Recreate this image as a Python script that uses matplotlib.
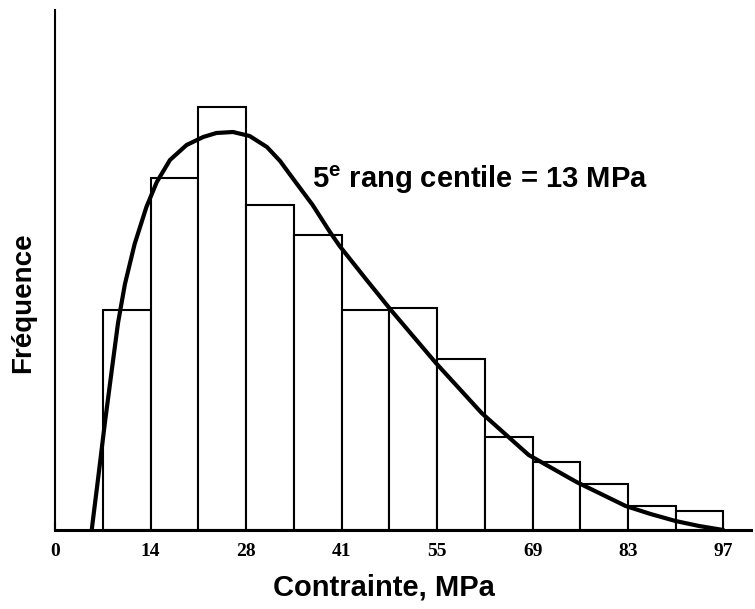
import numpy as np
import matplotlib
matplotlib.use('Agg')
import matplotlib.pyplot as plt

# histogram bins (MPa), bar heights (arbitrary frequency units)
bin_edges = [6.9, 13.8, 20.7, 27.6, 34.5, 41.4, 48.3, 55.2, 62.1, 69.0, 75.8, 82.7, 89.6, 96.5]
bar_heights = [22.0, 35.2, 42.3, 32.5, 29.5, 22.0, 22.2, 17.1, 9.3, 6.8, 4.6, 2.4, 1.9]

# fitted curve, points
curve_x = [5.3, 6.25, 7.2, 8.2, 9.1, 10.1, 11.5, 13.2, 14.7, 16.6, 19.0, 21.4, 23.3, 25.7,
           28.1, 30.6, 32.5, 34.3, 37.2, 39.7, 41.1, 45.0, 48.5, 55.0, 61.6, 68.4, 75.3,
           82.4, 86.0, 89.6, 93.0, 96.5]
curve_y = [0.0, 5.3, 10.7, 16.0, 20.7, 24.6, 28.6, 32.3, 34.8, 37.0, 38.5, 39.3, 39.7, 39.8,
           39.4, 38.3, 36.9, 35.2, 32.5, 29.8, 28.4, 25.0, 22.0, 16.7, 11.7, 7.5, 4.8,
           2.4, 1.6, 0.9, 0.4, 0.0]

# x tick positions (2 ksi steps) and their labels
tick_pos = [0, 13.8, 27.6, 41.4, 55.2, 69.0, 82.7, 96.5]
tick_labels = ['0', '14', '28', '41', '55', '69', '83', '97']

sans = ['Liberation Sans', 'DejaVu Sans']

fig = plt.figure(figsize=(7.55, 6.09), dpi=100)
ax = fig.add_axes([55/755, 79/609, 696/755, 520/609])

# bars
lefts = bin_edges[:-1]
widths = np.diff(bin_edges)
ax.bar(lefts, bar_heights, width=widths, align='edge', facecolor='white',
       edgecolor='black', linewidth=1.5, zorder=2)

# curve
ax.plot(curve_x, curve_y, color='black', linewidth=3, solid_capstyle='round',
        solid_joinstyle='round', zorder=3)

ax.set_xlim(0, 100.5)
ax.set_ylim(0, 52)

# axes style
for s in ['top', 'right']:
    ax.spines[s].set_visible(False)
ax.spines['left'].set_linewidth(1.5)
ax.spines['bottom'].set_linewidth(2.2)
ax.set_yticks([])
ax.set_xticks(tick_pos)
ax.set_xticklabels(tick_labels, family='Liberation Serif', fontweight='bold', fontsize=14)
ax.tick_params(axis='x', direction='in', length=6, width=1.5, pad=9)

# annotation
ax.text(37.1, 35.0, r'5$^{\mathregular{e}}$ rang centile = 13 MPa', family=sans,
        fontweight='bold', fontsize=21, ha='left', va='center')

# axis titles
fig.text(23/755, 1 - 303/609, 'Fréquence', family=sans, fontsize=20, fontweight='bold',
         rotation=90, ha='center', va='center')
fig.text(384/755, 1 - 588/609, 'Contrainte, MPa', family=sans, fontsize=21,
         fontweight='bold', ha='center', va='center')

plt.savefig('out.png', dpi=100)
